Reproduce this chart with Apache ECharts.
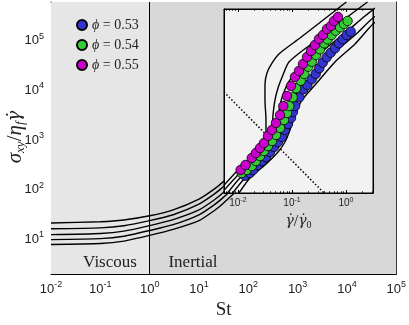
<!DOCTYPE html>
<html><head><meta charset="utf-8">
<script src="https://cdn.jsdelivr.net/npm/echarts@6/dist/echarts.min.js"></script>
<style>html,body{margin:0;padding:0;background:#fff}#c{width:409px;height:325px}</style>
</head><body><div id="c"></div>
<script>
// ---- tick values / labels ----
const stTicks = [0.01, 0.1, 1, 10, 100, 1000, 10000, 100000];
const stTickLabels = ['-2', '-1', '0', '1', '2', '3', '4', '5'];
const yTicks = [10, 100, 1000, 10000, 100000];
const yTickLabels = ['1', '2', '3', '4', '5'];
const insetTicks = [0.01, 0.1, 1];
const insetTickLabels = ['-2', '-1', '0'];

// ---- main plot curves (St, sigma/eta*gammadot) ----
const St = [0.01, 0.1, 0.3, 1, 3, 10, 20, 30, 100];
const mainCurve1 = [21.3, 22.6, 24.5, 29.7, 39.1, 64.3, 101, 140, 423];
const mainCurve2 = [16.3, 17.0, 18.7, 23.7, 31.2, 51.2, 80.3, 111, 336];
const mainCurve3 = [12.4, 13.1, 14.6, 18.9, 24.9, 39.0, 61.2, 84.6, 256];
const mainCurve4 = [9.86, 10.3, 11.5, 15.0, 19.7, 31.1, 48.8, 67.5, 205];
const mainCurve5 = [7.87, 8.23, 9.2, 12.0, 15.8, 23.7, 37.2, 51.4, 156];

// ---- inset data (gammadot/gammadot0, stress) ----
const phi053 = [[0.0135,2.09],[0.0167,2.35],[0.0190,2.67],[0.0234,3.30],[0.0278,3.91],[0.0330,4.64],[0.0391,5.75],[0.0464,7.11],[0.0550,8.80],[0.0653,10.9],[0.0742,14.7],[0.0843,19.0],[0.0958,24.5],[0.104,31.6],[0.114,40.8],[0.137,59.2],[0.162,83.2],[0.192,100],[0.232,128],[0.275,160],[0.320,204],[0.370,259],[0.439,326],[0.521,396],[0.625,478],[0.741,592],[0.869,702],[1.03,843],[1.22,971]];
const phi054 = [[0.0117,2.35],[0.0145,2.67],[0.0180,3.16],[0.0215,3.91],[0.0256,4.84],[0.0303,6.0],[0.0360,7.42],[0.0427,9.18],[0.0506,11.9],[0.0600,16.0],[0.0711,22.5],[0.0808,30.3],[0.0891,40.8],[0.103,59.2],[0.119,86.9],[0.145,120],[0.169,160],[0.200,218],[0.232,270],[0.278,359],[0.330,458],[0.396,592],[0.458,702],[0.543,843],[0.644,1013],[0.774,1171],[0.918,1348],[1.07,1531]];
const phi055 = [[0.0112,2.67],[0.0138,3.30],[0.0180,4.45],[0.0215,5.5],[0.0256,6.8],[0.0303,8.4],[0.0360,11.4],[0.0427,14.7],[0.0506,19.8],[0.0600,27.8],[0.0690,40.8],[0.0808,62.5],[0.0958,95.8],[0.1136,141],[0.1349,182],[0.160,245],[0.190,330],[0.225,426],[0.267,551],[0.316,711],[0.375,843],[0.445,1089],[0.527,1238],[0.600,1531],[0.711,1816]];

const insetLine1 = [[0.00551,1.39],[0.01089,2.90],[0.01815,4.45],[0.02553,6.25],[0.0303,8.08],[0.0330,11.4],[0.0330,22.5],[0.0316,52.7],[0.0316,100],[0.0344,167],[0.0426,255],[0.0600,391],[0.1406,742],[0.330,1437],[1.017,3444]];
const insetLine2 = [[0.00551,1.12],[0.01089,2.35],[0.02065,3.91],[0.0316,6.25],[0.0392,8.43],[0.0426,14.7],[0.0445,27.8],[0.0484,52.7],[0.0551,88.0],[0.0681,153],[0.0880,267],[0.2154,551],[0.506,1044],[1.186,1978],[2.50,3444]];
const insetLine3 = [[0.00642,1.0],[0.01089,1.90],[0.02154,3.30],[0.0359,5.50],[0.0484,8.08],[0.0534,18.2],[0.0600,42.6],[0.0711,74.2],[0.0918,124],[0.1406,190],[0.330,391],[0.958,918],[2.25,1896],[4.84,3444]];
const insetLine4 = [[0.00798,1.0],[0.01349,1.90],[0.02553,3.30],[0.0426,5.50],[0.0600,8.43],[0.0711,14.7],[0.0843,27.8],[0.1044,52.7],[0.1406,88.0],[0.2667,167],[0.625,408],[1.468,843],[3.162,1741],[8.80,3444]];
const insetLine5 = [[0.01044,1.0],[0.01668,1.90],[0.0316,3.30],[0.0551,5.75],[0.0741,8.80],[0.0918,14.7],[0.1137,27.8],[0.1531,52.7],[0.2667,100],[0.625,267],[1.468,574],[3.162,1348],[9.18,3162]];
const insetDotted = [[0.00551,74.2],[0.3594,1.09],[0.392,1.0]];

const seriesNames = ['\u03d5 = 0.53', '\u03d5 = 0.54', '\u03d5 = 0.55'];
const seriesColors = ['#3434d0', '#36cc36', '#cc00cc'];

// ---- helpers ----
function minorTicks(lo, hi) {
  const out = [];
  for (let k = Math.floor(Math.log10(lo)); k <= Math.ceil(Math.log10(hi)); k++) {
    for (let m = 2; m <= 9; m++) {
      const v = parseFloat((m * Math.pow(10, k)).toPrecision(6));
      if (v >= lo && v <= hi) out.push(v);
    }
  }
  return out;
}
function expLabel(ticks, labels) {
  return function (v) {
    for (let i = 0; i < ticks.length; i++) {
      if (Math.abs(Math.log10(v) - Math.log10(ticks[i])) < 1e-6) return '{b|10}{e|' + labels[i] + '}';
    }
    return '';
  };
}
const sans = 'Liberation Sans';
const serif = 'Liberation Serif';
const gfont = 'DejaVu Serif';
const txt = '#222';
const mainRich = {
  b: {fontFamily: sans, fontSize: 13, lineHeight: 18, color: txt},
  e: {fontFamily: sans, fontSize: 9, lineHeight: 8, verticalAlign: 'top', color: txt}
};
const insetRich = {
  b: {fontFamily: sans, fontSize: 10, lineHeight: 13, color: txt},
  e: {fontFamily: sans, fontSize: 7, lineHeight: 6, verticalAlign: 'top', color: txt}
};

const X0 = 0.01, X1 = 100000, Y0 = 2, Y1 = 600000;
const IX0 = 0.00551, IX1 = 3.162, IY0 = 1, IY1 = 2555;

function axisSet(gridIndex, pos, min, max, majors, labelsFn, rich, majLen, minLen, showLabel, extra, zl) {
  const base = {
    type: 'log', gridIndex: gridIndex, position: pos, min: min, max: max, zlevel: zl,
    splitLine: {show: false}, minorTick: {show: false}, minorSplitLine: {show: false},
    axisLine: {show: true, onZero: false, lineStyle: {color: '#000', width: 1}},
    axisPointer: {show: false}
  };
  const a1 = Object.assign({}, base, {
    axisTick: {show: true, inside: true, length: majLen, customValues: majors, lineStyle: {color: '#000', width: 1}},
    axisLabel: showLabel ? {show: true, customValues: majors, formatter: labelsFn, rich: rich, margin: extra.margin} : {show: false}
  }, extra.name || {});
  const a2 = Object.assign({}, base, {
    axisLine: {show: false, onZero: false},
    axisTick: {show: true, inside: true, length: minLen, customValues: minorTicks(min, max), lineStyle: {color: '#000', width: 0.8}},
    axisLabel: {show: false}
  });
  return [a1, a2];
}

const xAxes = [].concat(
  axisSet(0, 'bottom', X0, X1, stTicks, expLabel(stTicks, stTickLabels), mainRich, 4.5, 2.5, true,
    {margin: 6, name: {name: 'St', nameLocation: 'middle', nameGap: 27,
      nameTextStyle: {fontFamily: serif, fontSize: 19, color: txt}}}, 0),
  axisSet(0, 'top', X0, X1, stTicks, null, null, 4.5, 2.5, false, {}, 0),
  axisSet(1, 'bottom', IX0, IX1, insetTicks, expLabel(insetTicks, insetTickLabels), insetRich, 3, 1.8, true,
    {margin: 4, name: {name: '{g|\u03b3\u0307}{n|/}{g|\u03b3\u0307}{s|0}', nameLocation: 'middle', nameGap: 15,
      nameTextStyle: {rich: {
        g: {fontFamily: gfont, fontStyle: 'italic', fontSize: 14, lineHeight: 18, color: txt},
        n: {fontFamily: serif, fontSize: 16, lineHeight: 18, color: txt},
        s: {fontFamily: serif, fontSize: 10, lineHeight: 9, verticalAlign: 'bottom', color: txt}}}}}, 1),
  axisSet(1, 'top', IX0, IX1, insetTicks, null, null, 3, 1.8, false, {}, 1)
);
const yAxes = [].concat(
  axisSet(0, 'left', Y0, Y1, yTicks, expLabel(yTicks, yTickLabels), mainRich, 4.5, 2.5, true, {margin: 7}, 0),
  axisSet(0, 'right', Y0, Y1, yTicks, null, null, 4.5, 2.5, false, {}, 0),
  [{type: 'log', gridIndex: 1, min: IY0, max: IY1, zlevel: 1, show: true,
    axisLine: {show: true, onZero: false, lineStyle: {color: '#000'}}, axisTick: {show: false}, axisLabel: {show: false}, splitLine: {show: false}},
   {type: 'log', gridIndex: 1, position: 'right', min: IY0, max: IY1, zlevel: 1, show: true,
    axisLine: {show: true, onZero: false, lineStyle: {color: '#000'}}, axisTick: {show: false}, axisLabel: {show: false}, splitLine: {show: false}}]
);

const mainCurves = [mainCurve1, mainCurve2, mainCurve3, mainCurve4, mainCurve5];
const insetLines = [insetLine1, insetLine2, insetLine3, insetLine4, insetLine5];
const series = [];
mainCurves.forEach(function (c, i) {
  const s = {
    type: 'line', xAxisIndex: 0, yAxisIndex: 0, zlevel: 0, z: 3,
    data: St.map(function (x, j) { return [x, c[j]]; }),
    showSymbol: false, smooth: 0.2, silent: true,
    lineStyle: {color: '#000', width: 1.4}
  };
  if (i === 0) {
    s.markArea = {silent: true, data: [
      [{xAxis: X0, itemStyle: {color: '#e6e6e6'}}, {xAxis: 1}],
      [{xAxis: 1, itemStyle: {color: '#d8d8d8'}}, {xAxis: X1}]
    ], z: 1};
    s.markLine = {silent: true, symbol: ['none', 'none'], label: {show: false},
      lineStyle: {color: '#000', width: 1, type: 'solid'}, data: [{xAxis: 1}]};
  }
  series.push(s);
});
insetLines.forEach(function (c) {
  series.push({
    type: 'line', xAxisIndex: 4, yAxisIndex: 4, zlevel: 1, z: 2, clip: false,
    data: c, showSymbol: false, smooth: 0.25, silent: true,
    lineStyle: {color: '#000', width: 1.4}
  });
});
series.push({
  type: 'line', xAxisIndex: 4, yAxisIndex: 4, zlevel: 1, z: 2,
  data: insetDotted, showSymbol: false, silent: true,
  lineStyle: {color: '#000', width: 1.5, type: [1.5, 2]}
});
[phi053, phi054, phi055].forEach(function (d, i) {
  series.push({
    type: 'scatter', name: seriesNames[i], xAxisIndex: 4, yAxisIndex: 4, zlevel: 1, z: 4,
    data: d, symbol: 'circle', symbolSize: 9.5,
    itemStyle: {color: seriesColors[i], borderColor: '#000', borderWidth: 0.8, opacity: 1}
  });
});

const option = {
  animation: false,
  backgroundColor: '#fff',
  grid: [
    {left: 51, right: 11, top: 2, bottom: 46, show: false},
    {left: 224, width: 149, top: 9, height: 184, show: true, backgroundColor: '#f2f2f2', borderColor: '#000', borderWidth: 1, zlevel: 1}
  ],
  xAxis: xAxes,
  yAxis: yAxes,
  legend: {
    data: seriesNames, orient: 'vertical', left: 71, top: 13, itemWidth: 10, itemHeight: 10, itemGap: 6,
    icon: 'circle', zlevel: 0,
    formatter: function (n) { return '{i|\u03d5}{n|' + n.slice(1) + '}'; },
    textStyle: {rich: {
      i: {fontFamily: serif, fontStyle: 'italic', fontSize: 14, color: txt},
      n: {fontFamily: serif, fontSize: 14, color: txt}
    }}
  },
  graphic: [
    {type: 'text', x: 110, y: 263, z: 10, style: {text: 'Viscous', fontFamily: serif, fontSize: 17, fill: txt, align: 'center', verticalAlign: 'middle'}},
    {type: 'text', x: 193, y: 263, z: 10, style: {text: 'Inertial', fontFamily: serif, fontSize: 17, fill: txt, align: 'center', verticalAlign: 'middle'}},
    {type: 'text', x: 15, y: 137, rotation: Math.PI / 2, z: 10, style: {
      text: '{i|\u03c3}{s|xy}{n|/}{i|\u03b7}{s|f}{g|\u03b3\u0307}', align: 'center', verticalAlign: 'middle',
      rich: {
        i: {fontFamily: serif, fontStyle: 'italic', fontSize: 21, lineHeight: 25, fill: txt, color: txt},
        g: {fontFamily: gfont, fontStyle: 'italic', fontSize: 18, lineHeight: 25, fill: txt, color: txt},
        n: {fontFamily: serif, fontSize: 21, lineHeight: 25, fill: txt, color: txt},
        s: {fontFamily: serif, fontStyle: 'italic', fontSize: 13, lineHeight: 13, verticalAlign: 'bottom', fill: txt, color: txt}
      }}}
  ],
  series: series
};
const chart = echarts.init(document.getElementById('c'), null, {width: 409, height: 325});
chart.setOption(option);
</script></body></html>
